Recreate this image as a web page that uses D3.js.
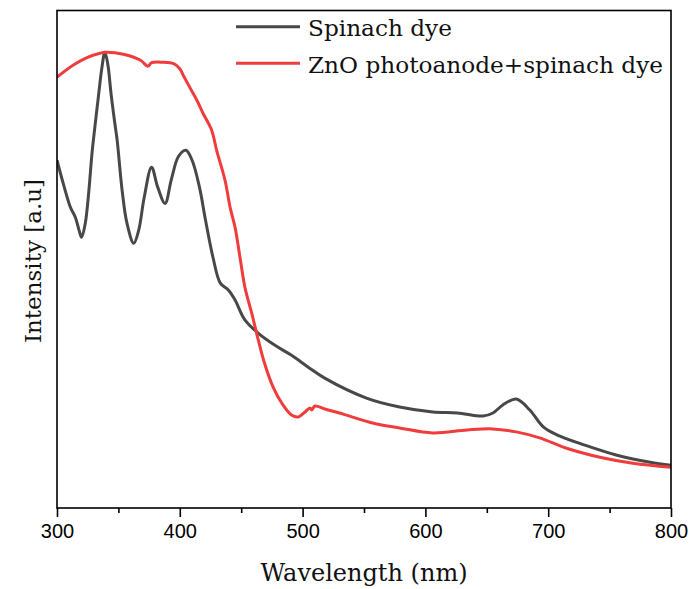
<!DOCTYPE html>
<html>
<head>
<meta charset="utf-8">
<script src="https://cdn.jsdelivr.net/npm/d3@7"></script>
<style>
  body { margin: 0; background: #fff; }
  svg { display: block; }
</style>
</head>
<body>
<script>
// spinach dye absorbance
var spinachWl = [300, 305, 311, 315, 318, 320, 323, 326, 328.5, 331, 334, 336.5, 339, 341.5, 344,
    347, 349, 353, 357, 362.5, 366.5, 371, 377, 382, 388, 393, 399, 405, 410, 416, 421, 427, 433,
    439.5, 445, 453, 464, 477.5, 491, 504.6, 518, 552, 579, 606, 626, 647, 655, 663, 674, 685,
    696, 707, 729, 756, 783, 800];
var spinachVal = [0.699, 0.653, 0.604, 0.584, 0.558, 0.544, 0.572, 0.639, 0.713, 0.769, 0.833,
    0.884, 0.916, 0.890, 0.833, 0.775, 0.739, 0.639, 0.572, 0.532, 0.558, 0.624, 0.685, 0.645,
    0.612, 0.659, 0.707, 0.719, 0.699, 0.645, 0.578, 0.504, 0.452, 0.438, 0.418, 0.378, 0.351,
    0.327, 0.307, 0.283, 0.261, 0.221, 0.203, 0.193, 0.191, 0.185, 0.191, 0.207, 0.219, 0.197,
    0.163, 0.147, 0.127, 0.106, 0.092, 0.086];

// ZnO photoanode + spinach dye
var znoWl = [300, 313, 324, 335, 340, 354, 368, 374, 377, 386, 395, 400, 403, 408, 414, 419,
    426, 430, 436.8, 441, 445, 449, 453, 458.5, 464, 469, 476, 483, 491, 496.5, 502, 506, 507.5,
    510, 518, 530, 557, 579, 606, 634, 655, 674, 693, 715, 742, 769, 800];
var znoVal = [0.866, 0.890, 0.905, 0.914, 0.916, 0.912, 0.900, 0.888, 0.895, 0.896, 0.893,
    0.883, 0.869, 0.846, 0.819, 0.793, 0.759, 0.719, 0.659, 0.604, 0.564, 0.504, 0.444, 0.392,
    0.337, 0.291, 0.243, 0.211, 0.187, 0.183, 0.193, 0.201, 0.197, 0.205, 0.199, 0.191, 0.171,
    0.161, 0.151, 0.157, 0.159, 0.153, 0.141, 0.120, 0.102, 0.090, 0.082];

var xTicks = [300, 400, 500, 600, 700, 800];
var xMinor = [350, 450, 550, 650, 750];
var seriesNames = ["Spinach dye", "ZnO photoanode+spinach dye"];
var seriesColors = ["#484848", "#f03c3c"];

var svgWidth = 689, svgHeight = 589;
var margin = {top: 10.5, right: 18, bottom: 81, left: 57};
var width = svgWidth - margin.left - margin.right,
    height = svgHeight - margin.top - margin.bottom;

var svg = d3.select("body").append("svg")
    .attr("width", svgWidth)
    .attr("height", svgHeight);

var g = svg.append("g")
    .attr("transform", "translate(" + margin.left + "," + margin.top + ")");

var xScale = d3.scaleLinear().domain([300, 800]).range([0, width]);
var yScale = d3.scaleLinear().domain([0, 1]).range([height, 0]);

function toPoints(wl, val) {
    return wl.map(function(w, i) { return {wl: w, v: val[i]}; });
}
var series = [toPoints(spinachWl, spinachVal), toPoints(znoWl, znoVal)];

var line = d3.line()
    .x(function(d) { return xScale(d.wl); })
    .y(function(d) { return yScale(d.v); })
    .curve(d3.curveCatmullRom.alpha(0.5));

g.append("defs").append("clipPath").attr("id", "clip")
  .append("rect").attr("width", width).attr("height", height);

// curves
series.forEach(function(s, i) {
    g.append("path")
        .datum(s)
        .attr("clip-path", "url(#clip)")
        .attr("fill", "none")
        .attr("stroke", seriesColors[i])
        .attr("stroke-width", 3)
        .attr("stroke-linejoin", "round")
        .attr("d", line);
});

// frame
g.append("rect")
    .attr("width", width)
    .attr("height", height)
    .attr("fill", "none")
    .attr("stroke", "#000")
    .attr("stroke-width", 1.6);

// x axis major + minor
var xAxis = g.append("g")
    .attr("transform", "translate(0," + height + ")")
    .call(d3.axisBottom(xScale).tickValues(xTicks).tickSize(9).tickPadding(7));
xAxis.select(".domain").remove();
xAxis.selectAll(".tick line").attr("stroke-width", 1.6);
xAxis.selectAll(".tick text")
    .attr("font-family", "'Liberation Sans', Arial, sans-serif")
    .attr("font-size", "20px")
    .attr("fill", "#000");

g.append("g")
    .attr("transform", "translate(0," + height + ")")
    .call(d3.axisBottom(xScale).tickValues(xMinor).tickSize(5).tickFormat(""))
    .call(function(a) { a.select(".domain").remove(); })
    .selectAll(".tick line").attr("stroke-width", 1.6);

// axis titles
svg.append("text")
    .attr("x", 364)
    .attr("y", 581)
    .attr("text-anchor", "middle")
    .attr("font-family", "'DejaVu Serif', serif")
    .attr("font-size", "24px")
    .attr("fill", "#111")
    .text("Wavelength (nm)");

svg.append("text")
    .attr("transform", "translate(41,261) rotate(-90)")
    .attr("text-anchor", "middle")
    .attr("font-family", "'DejaVu Serif', serif")
    .attr("font-size", "23px")
    .attr("fill", "#111")
    .text("Intensity [a.u]");

// legend
var legend = svg.append("g");
seriesNames.forEach(function(name, i) {
    var ly = 26.7 + i * 36.6;
    legend.append("line")
        .attr("x1", 236).attr("x2", 300)
        .attr("y1", ly).attr("y2", ly)
        .attr("stroke", seriesColors[i])
        .attr("stroke-width", 3);
    legend.append("text")
        .attr("x", 308)
        .attr("y", ly + 9.6)
        .attr("font-family", "'DejaVu Serif', serif")
        .attr("font-size", "23.2px")
        .attr("fill", "#111")
        .text(name);
});
</script>
</body>
</html>
